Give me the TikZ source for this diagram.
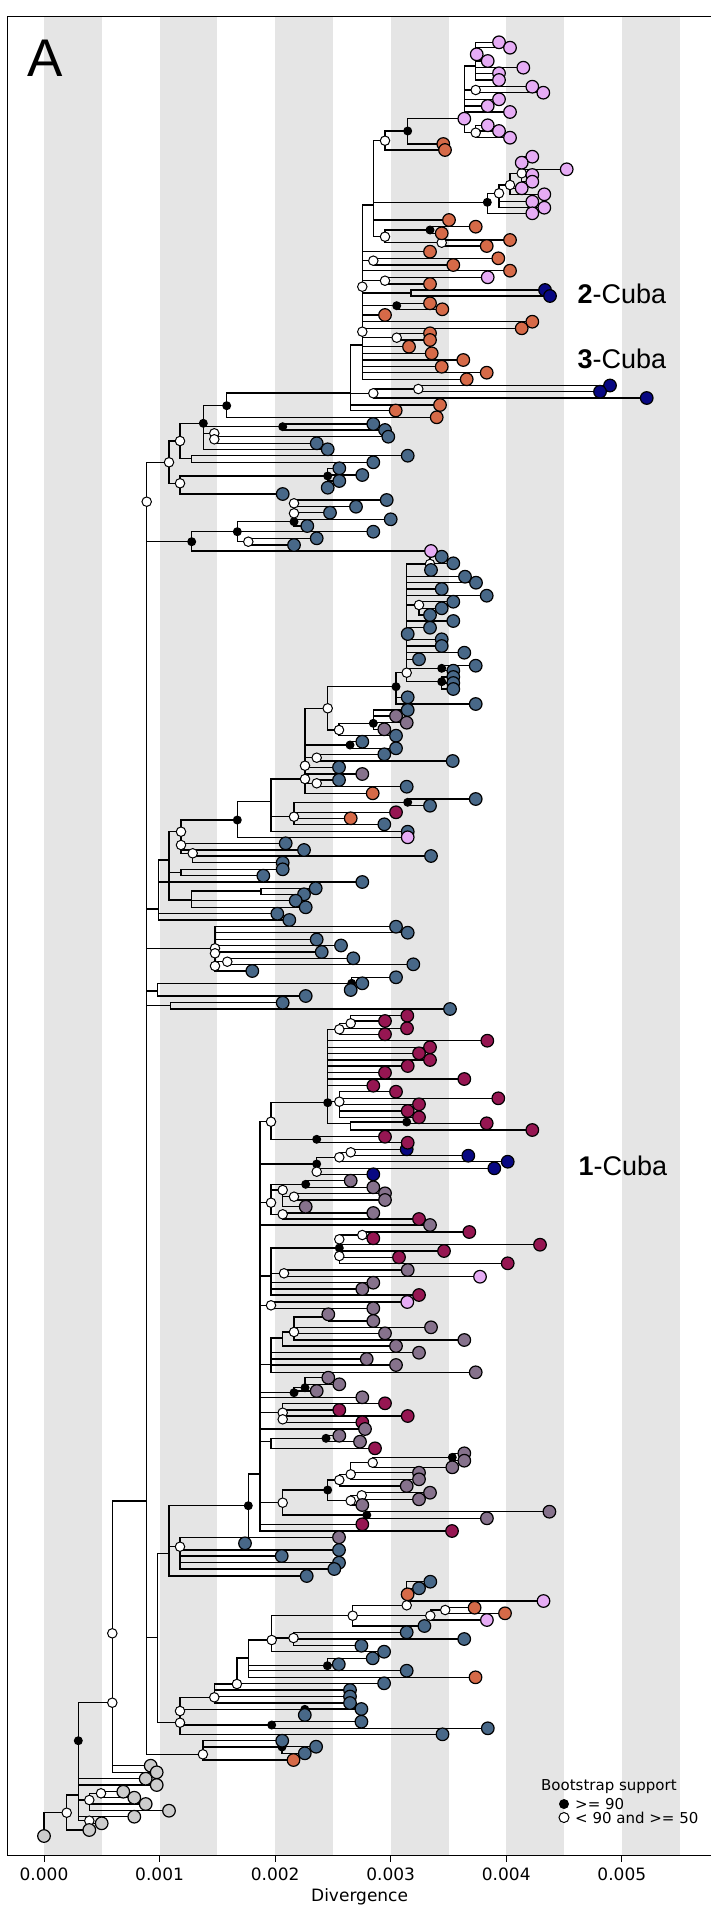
\documentclass[tikz,border=0pt]{standalone}
\usepackage{fontspec}
\setmainfont{DejaVu Sans}
\newfontfamily\lib{Liberation Sans}
\definecolor{pk}{RGB}{230,172,245}
\definecolor{or}{RGB}{214,106,72}
\definecolor{bl}{RGB}{72,104,136}
\definecolor{mr}{RGB}{150,22,82}
\definecolor{pu}{RGB}{134,114,140}
\definecolor{nv}{RGB}{8,8,130}
\definecolor{gr}{RGB}{204,204,204}
\definecolor{band}{RGB}{229,229,229}
\tikzset{
  br/.style={draw=black,line width=1.4pt},
  tipc/.style={draw=black,line width=1.2pt},
  supb/.style={circle,fill=black,inner sep=0pt,minimum size=9pt},
  supw/.style={circle,draw=black,fill=white,line width=1pt,inner sep=0pt,minimum size=9.5pt},
  supn/.style={inner sep=0pt,minimum size=0pt},
}
\def\intlist{R0/44/1824/n/R0, Wr/66.7/1812.7/w/R0, X1/78.3/1795/n/Wr, Bk1/78.3/1740.7/b/X1,
N112/112.3/1702.7/w/Bk1, W112b/112.3/1633.3/w/N112, B0/146.7/1501/n/W112b,
W89a/89.3/1800/w/X1, W101/101/1793.3/w/W89a, W89b/89.3/1820.7/w/X1,
Wbb/146.7/501.7/w/B0, W169/169/462.3/w/Wbb, W180a/180/441/w/W169, N191/191.7/458.3/n/W180a,
B3/203.3/423.3/b/W180a, b4/282.7/426.7/b/B3, w5/214.3/433.3/w/B3, w5b/214.3/439.3/w/w5,
Btop/226.7/405.7/b/B3, C0/350.7/393/n/Btop, W3c/373.3/393.3/w/C0, W3c2/418.3/389/w/W3c,
D/362.3/345/n/C0, Dw1/362.3/286.7/w/D, Dw2/362.3/331.7/w/D, W373/373.3/260.7/w/D,
W385b/385/280.7/w/Dw1, N411/411/293/n/Dw1, Bk397/396.7/305.7/b/Dw1, W397/396.7/337.7/w/Dw2,
U/373.3/205/n/D, W1/385/140.7/w/U, B1/407.7/131/b/W1, P1/464.3/118.7/n/B1,
Pa/475.7/66/n/P1, Pb/475.7/90/w/P1, Pc/475.7/132.7/w/P1,
B2/487.3/202.3/b/U, W3/499/193.3/w/B2, W4/510/185/w/W3, N5/521.7/173.3/w/W4,
W2/385/236.7/w/U, Bk430/430/230/b/W2, W441/441.7/242.7/w/W2,
W180b/180/483.3/w/W169, Bk327/327.7/476/b/W180b,
Bk191/191.7/541.7/b/Wbb, Bk237/237.3/531.7/b/Bk191, Na/294/521.7/b/Bk237,
Wa1/294/503.3/w/Na, Wa2/294/513.3/w/Na, W248/248.3/541.7/w/Bk237,
N158/158.3/909/n/B0, N169b/169/860/n/N158, W181a/181/831.7/w/N169b, W181b/181/845/w/W181a,
W193/192.7/853.3/w/W181b, N181c/181/872.5/n/N169b, N192/191.7/900/n/N169b, N261/261/891/n/N192,
Bk237b/237.3/820/b/W181a, N271/271/801.7/n/Bk237b, W294/294/816.7/w/N271, Bk407/407.7/802.3/b/W294,
N305/305/779/w/N271, W305b/305/765.7/w/N305, W316b/316.7/783.3/w/N305, W316a/316.7/757.7/w/N305,
Bk350/350/745/b/N305, W327/327.7/708.3/w/N305, W339/339/730/w/W327, Bk373/373.3/723.3/b/W339,
B396/396/686.7/b/W327, BC/406.7/672.7/w/B396, W430/430/564/w/BC, W419/419/605/w/BC,
Bk441/441.7/668.3/b/BC, Bk441b/441.7/681.7/b/BC,
N215/215/948.3/w/B0, W215b/215/953.3/w/N215, W227/227.3/961.7/w/W215b, W215c/215/966/w/W215b,
N157b/157.3/991/n/B0, Bk352/351.7/983.3/b/N157b, N170/170.7/1005.7/n/B0,
N157/157.7/1637.3/n/B0, N169/169/1553.3/n/N157, B1505/248.3/1505.7/b/N169, W180d/180/1546.7/w/N169,
W180c/180/1722.7/w/N157, W180e/180/1711/w/W180c, Bk272/271.7/1725/b/W180c, Bk305/304.8/1709.3/b/W180e,
W214/214.3/1697.3/w/W180e, W237/236.9/1684/w/W214, N248/248.3/1658/n/W237, Bk328/327.4/1665.7/b/N248,
W272/271.7/1640/w/N248, W293/293.5/1638/w/W272, W353/352.7/1615.7/w/W272, W407/406.7/1605.3/w/W353,
W430b/430.3/1615.7/w/W353, W445/445.2/1610/w/W430b,
W203/202.9/1754.3/w/B0, Bk282/282/1747/b/W203,
N1/260/1474/n/B1505, W271a/271/1121.7/w/N1, Bk328b/327.7/1102.7/b/W271a, W339a/339.3/1029.3/w/Bk328b,
W351/350.7/1023.3/w/W339a, W339b/339.3/1101.7/w/Bk328b, N351/350.7/1123.3/n/Bk328b, Bk407b/406.7/1122/b/N351,
Bk317/316.7/1139.3/b/W271a, Bk317c/316.7/1164/b/N1, W339c/339.3/1157.3/w/Bk317c, W351b/350.7/1152.3/w/W339c,
W317/316.7/1171.7/w/Bk317c, W271b/271/1202.7/w/N1, Bk306/305.7/1184.3/b/W271b, W283a/282.7/1190/w/W271b,
W294b/294/1196.7/w/W283a, W283b/282.7/1214.3/w/W271b, N271c/271/1276/n/N1, Bk339/339.3/1248/b/N271c,
W339w/339.3/1239.3/w/Bk339, W362/362.3/1235/w/W339w, W339e/339.3/1256/w/Bk339, W284/284/1273.3/w/N271c,
W271d/271/1305.3/w/N1, N271e/271/1364.3/n/N1, N283/282.7/1338/n/N271e, W294c/294/1332/w/N283,
N328/328.3/1317/n/W294c, Bk294/294/1392.7/b/N1, Bk305b/305/1387.7/b/Bk294, W283c/282.7/1412.7/w/N1,
W283d/282.7/1419.3/w/W283c, N271f/271/1441.7/n/N1, Bk326/326/1438.3/b/N271f, W283e/282.7/1502.7/w/N1,
Bk328c/327.7/1490/b/W283e, W339f/339.3/1480/w/Bk328c, W351d/350.7/1474.3/w/W339f, W373b/372.7/1462.7/w/W351d,
Bk452/452.3/1457.3/b/W373b, W351c/350.7/1500.7/w/Bk328c, W362b/361.7/1495.3/w/W351c, Bk367/366.8/1515/b/W283e}
\def\tiplist{44/1836/gr/R0, 89.3/1830/gr/Wr, 145.7/1778.7/gr/Bk1, 156.7/1785/gr/X1, 123.3/1791.7/gr/W101,
134.3/1797.7/gr/W101, 145.7/1804/gr/W89a, 169/1810.7/gr/W89a, 134.3/1816.7/gr/X1, 101.7/1823.3/gr/W89b,
150.7/1765.7/gr/N112, 156.7/1772.3/gr/N112,
499/42.3/pk/Pa, 510/47.7/pk/Pa, 476.7/54.3/pk/Pa, 487.7/61/pk/Pa, 523.3/67.7/pk/Pa, 499/73.3/pk/Pa, 499/80/pk/Pa,
532.3/86.7/pk/Pb, 543.3/92.7/pk/Pb, 499/99.3/pk/P1, 487.7/106/pk/P1, 510/112/pk/P1, 464.3/118.7/pk/P1,
487.7/125.3/pk/Pc, 499/131/pk/Pc, 510/137.7/pk/Pc, 443.3/144/or/B1, 445/150/or/W1,
532.3/156.7/pk/N5, 521.7/162.7/pk/N5, 566.7/169.3/pk/N5, 532.3/175/pk/N5, 532.3/181.7/pk/N5,
521.7/188.3/pk/W4, 544.3/194.3/pk/W4, 532.3/201.7/pk/W3, 544.3/207.7/pk/W3, 532.3/213.3/pk/B2,
449/220/or/U, 475.7/226.7/or/Bk430, 441.7/233.3/or/Bk430, 510/240/or/W441, 486.7/246/or/W441,
430/251.7/or/D, 498.3/258.3/or/W373, 453.3/265/or/W373, 510/270.7/or/D, 487.7/277.3/pk/W385b, 430/284/or/W385b,
545/290/nv/N411, 550/296/nv/N411, 430/303.3/or/Bk397, 442.3/309.3/or/Bk397, 385/315/or/Dw1,
532.3/321.7/or/Dw2, 521.7/328.3/or/Dw2, 430/333.3/or/W397, 430/340/or/W397,
409/346.7/or/D, 431.7/353.3/or/D, 463.3/360/or/D, 441.7/366.7/or/D, 486.7/372.7/or/D, 466.7/379.3/or/D,
610/385.5/nv/W3c2, 600/391.7/nv/W3c2, 646.7/398/nv/W3c, 440/405/or/C0, 395.7/410.5/or/C0, 436.7/417.3/or/Btop,
373.3/424/bl/b4, 385/430/bl/b4, 388.3/436.7/bl/w5, 316.7/443.3/bl/w5b, 327.7/449.3/bl/B3,
407.7/455.7/bl/N191, 373.3/462.3/bl/N191, 339.3/468.3/bl/Bk327, 362.3/475/bl/Bk327, 339.3/481/bl/Bk327,
327.7/487.7/bl/Bk327, 282.7/494/bl/W180b, 386.7/500/bl/Wa1, 356/506.7/bl/Wa1, 330/512.7/bl/Wa2,
390.7/519.3/bl/Wa2, 307.3/526/bl/Na, 373.3/531.7/bl/Bk237, 316.7/538.3/bl/W248, 294/545/bl/W248, 431/551/pk/Bk191,
441.7/556.7/bl/W430, 453.3/563.3/bl/W430, 431/570/bl/W430, 465/576.7/bl/BC, 476/582.7/bl/BC, 441.7/589/bl/BC,
486.7/595.7/bl/BC, 453.3/601.7/bl/W419, 441.7/608.3/bl/W419, 430/615/bl/W419, 453.3/621/bl/BC, 430/627.7/bl/BC,
407.7/634/bl/BC, 441.7/639.3/bl/BC, 441.7/646/bl/BC, 464.3/652.7/bl/BC, 419/659.3/bl/BC, 475.7/665.7/bl/Bk441,
453.3/670.7/bl/Bk441, 453.3/677/bl/Bk441b, 453.3/683/bl/Bk441b, 453.3/689/bl/Bk441b, 407.7/697.3/bl/B396,
475.7/704/bl/B396,
407.7/710/bl/Bk373, 396/716/pu/Bk373, 406.7/722.7/pu/Bk373, 384.3/729.3/pu/Bk373, 396/735.7/bl/W339,
362.3/741.7/bl/Bk350, 396/748.3/bl/Bk350, 384.3/754.3/bl/W316a, 452.7/761/bl/W316a, 339/767.3/bl/W305b,
362.3/774/pu/W305b, 339/780/bl/W316b, 406.7/786.7/bl/W316b, 372.7/793.3/or/N305, 475.7/799/bl/Bk407,
430/805.7/bl/Bk407, 396/812.3/mr/W294, 350.7/818.3/or/W294, 384.3/824.3/bl/W294, 407.7/831.7/bl/N271,
407.7/837.3/pk/Bk237b,
285.7/843.3/bl/W181b, 304/850/bl/W181b, 431/856/bl/W193, 282.7/862.7/bl/W193, 282.7/869.3/bl/N181c,
263.3/875.7/bl/N181c, 362.3/882/bl/N158, 315.7/888.3/bl/N261, 304/894.3/bl/N261, 295.7/900.7/bl/N192,
305.7/907.3/bl/N192, 277.3/913.7/bl/N158, 289.3/920/bl/N158,
396/926.7/bl/N215, 407.7/932.7/bl/N215, 316.7/939.5/bl/N215, 341/945.5/bl/W215b, 321.7/952/bl/W215b,
353.3/958.3/bl/W227, 413.3/964.3/bl/W227, 252.3/971/bl/W215c,
396/977.3/bl/Bk352, 362.3/983.3/bl/Bk352, 350.7/990/bl/Bk352, 305.7/996/bl/N157b,
282.7/1002.7/bl/N170, 450/1009/bl/N170,
407.3/1015.7/mr/W351, 385/1021/mr/W351, 407/1028.3/mr/W339a, 385/1034.3/mr/W339a, 487.3/1040.7/mr/Bk328b,
430/1047.3/mr/Bk328b, 419/1053.3/mr/Bk328b, 430/1060/mr/Bk328b, 407.7/1066/mr/Bk328b, 385/1072.7/mr/Bk328b,
464.3/1079/mr/Bk328b, 373.3/1085.7/mr/Bk328b, 396/1091.7/mr/W339b, 498.3/1098.3/mr/W339b, 419/1104.3/mr/W339b,
407.7/1111/mr/W339b, 419/1117.3/mr/W339b, 486.7/1123.3/mr/Bk407b, 532.3/1130/mr/N351, 385/1136.7/mr/Bk317,
406.7/1149.3/nv/W351b, 407.7/1142.7/mr/Bk317, 468.3/1155.7/nv/W351b, 507.7/1161.7/nv/W339c, 494.3/1168.3/nv/Bk317c,
373.3/1174.3/nv/W317, 350.7/1180.7/pu/Bk306, 373.3/1187.3/pu/Bk306, 385/1193.3/pu/W294b, 385/1200/pu/W294b,
305.7/1206.7/pu/W283a, 373.3/1213/pu/W283b, 419/1219/mr/W283b, 430/1225/pu/N1, 469.3/1232/mr/W362,
373.3/1238.3/mr/W362, 540/1244.7/mr/Bk339, 444/1251/mr/Bk339, 399/1257.3/mr/W339e, 507.7/1263.3/mr/W339e,
407.7/1270/pu/W284, 480/1276.7/pk/W284, 373.3/1282.7/pu/N271c, 362.3/1289/pu/N271c, 419/1295/mr/N271c,
407.3/1302/pk/W271d, 373.3/1308.3/pu/W271d, 328.3/1314.3/pu/N328, 373.3/1321/pu/N328, 431/1327.3/pu/W294c,
385/1333.3/pu/W294c, 464.3/1340/pu/W294c, 396/1346/pu/N283, 419/1352.7/pu/N271e, 366.7/1359/pu/N271e,
396/1365/pu/N271e, 475.7/1372.3/pu/N271e, 328.3/1377.7/pu/Bk305b, 339.3/1384.3/pu/Bk305b, 316.7/1391/pu/Bk294,
362.3/1397.3/pu/N1, 385/1403.3/mr/W283c, 339.3/1410/mr/W283c, 407.7/1416/mr/W283d, 362.3/1422.3/mr/W283d,
365/1429/pu/N1, 339.3/1435.7/pu/Bk326, 360/1441.7/pu/Bk326, 375/1448.3/mr/N271f, 464.3/1453.3/pu/Bk452,
464.3/1460.7/pu/Bk452, 452.3/1467.3/pu/W373b, 419/1472.7/pu/W351d, 419/1479.3/pu/W351d, 406.7/1486/pu/W339f,
430/1492.7/pu/W362b, 419/1499.3/pu/W362b, 362.3/1505/pu/W351c, 549.4/1511.7/pu/Bk367, 486.9/1518.3/pu/Bk367,
362.3/1524.3/mr/N1, 452/1531/mr/N1,
245/1543.3/bl/B1505, 339/1537.3/pu/W180d, 339/1550/bl/W180d, 281.7/1556/bl/W180d, 339/1562.7/bl/W180d,
334.3/1569/bl/W180d, 306.7/1576/bl/N169, 430.3/1581.7/bl/W407, 419/1588.3/bl/W407, 407.6/1594.3/or/W407,
543.5/1601/pk/W407, 474.6/1607.7/or/W445, 505/1613.3/or/W445, 486.9/1620/pk/W430b, 424.4/1626/bl/W353,
406.7/1632.3/bl/W293, 464.2/1639/bl/W293, 361.4/1645.7/bl/W293, 384.1/1651.7/bl/W272, 372.7/1658.3/bl/Bk328,
338.8/1664.3/bl/Bk328, 406.7/1670.7/bl/N248, 475.5/1677.3/or/N248, 384.1/1683.3/bl/W237, 350/1690/bl/W214,
350/1696.5/bl/W214, 350/1703/bl/W214, 361.4/1709/bl/Bk305, 304.8/1715/bl/Bk305, 361.4/1721.7/bl/Bk272,
487.8/1728.3/bl/Bk272, 442.5/1734.3/bl/W180c, 282.2/1740.7/bl/W203, 316.1/1746.7/bl/Bk282,
304.8/1753.3/bl/Bk282, 293.5/1760/or/W203}
\begin{document}
\begin{tikzpicture}[x=1pt,y=-1pt]
\useasboundingbox (0,0) rectangle (710,1908);
% shaded bands
\foreach \bx in {44,159.6,275.1,390.7,506.2,621.8}
  \fill[band] (\bx,16.8) rectangle ({\bx+57.8},1855);
% frame
\draw[line width=1pt] (714,16.8) -- (7.3,16.8) -- (7.3,1855) -- (714,1855);
% ticks and labels
\foreach \i/\lab in {0/0.000,1/0.001,2/0.002,3/0.003,4/0.004,5/0.005}{
  \draw[line width=1pt] ({44+115.56*\i},1855) -- ({44+115.56*\i},1862);
  \node[font=\fontsize{17}{20}\selectfont] (tick\i) at ({44+115.56*\i},1874) {\lab};
}
\node[font=\fontsize{17}{20}\selectfont] (xlab) at (359.6,1897) {Divergence};
% coordinates
\foreach \n/\tx/\ty/\s/\p in \intlist { \coordinate (\n) at (\tx,\ty); }
\foreach \tx/\ty/\c/\p [count=\i] in \tiplist { \coordinate (t\i) at (\tx,\ty); }
% branches
\foreach \n/\tx/\ty/\s/\p in \intlist { \draw[br] (\p) |- (\n); }
\foreach \tx/\ty/\c/\p [count=\i] in \tiplist { \draw[br] (\p) |- (t\i); }
% support circles
\foreach \n/\tx/\ty/\s/\p in \intlist { \node[sup\s] (s\n) at (\n) {}; }
% tips
\foreach \tx/\ty/\c/\p [count=\i] in \tiplist { \draw[tipc,fill=\c] (t\i) circle (6.3pt); }
% labels
\node[anchor=base west,font=\lib\fontsize{53}{60}\selectfont,inner sep=0pt] (lA) at (27,77) {A};
\node[anchor=base west,font=\lib\fontsize{27}{30}\selectfont,inner sep=0pt] (c2) at (577.5,303.5) {\textbf{2}-Cuba};
\node[anchor=base west,font=\lib\fontsize{27}{30}\selectfont,inner sep=0pt] (c3) at (577.5,368) {\textbf{3}-Cuba};
\node[anchor=base west,font=\lib\fontsize{27}{30}\selectfont,inner sep=0pt] (c1) at (578.3,1175.7) {\textbf{1}-Cuba};
% legend
\node[anchor=west,font=\fontsize{15}{18}\selectfont,inner sep=0pt] (lg) at (541,1786.7) {Bootstrap support};
\node[circle,fill=black,inner sep=0pt,minimum size=10pt] (lgb) at (564,1804) {};
\node[anchor=west,font=\fontsize{15}{18}\selectfont,inner sep=0pt] (lgbt) at (575,1804) {>= 90};
\node[circle,draw=black,fill=white,line width=1pt,inner sep=0pt,minimum size=10pt] (lgw) at (564,1817.5) {};
\node[anchor=west,font=\fontsize{15}{18}\selectfont,inner sep=0pt] (lgwt) at (575,1817.5) {< 90 and >= 50};
\end{tikzpicture}
\end{document}
